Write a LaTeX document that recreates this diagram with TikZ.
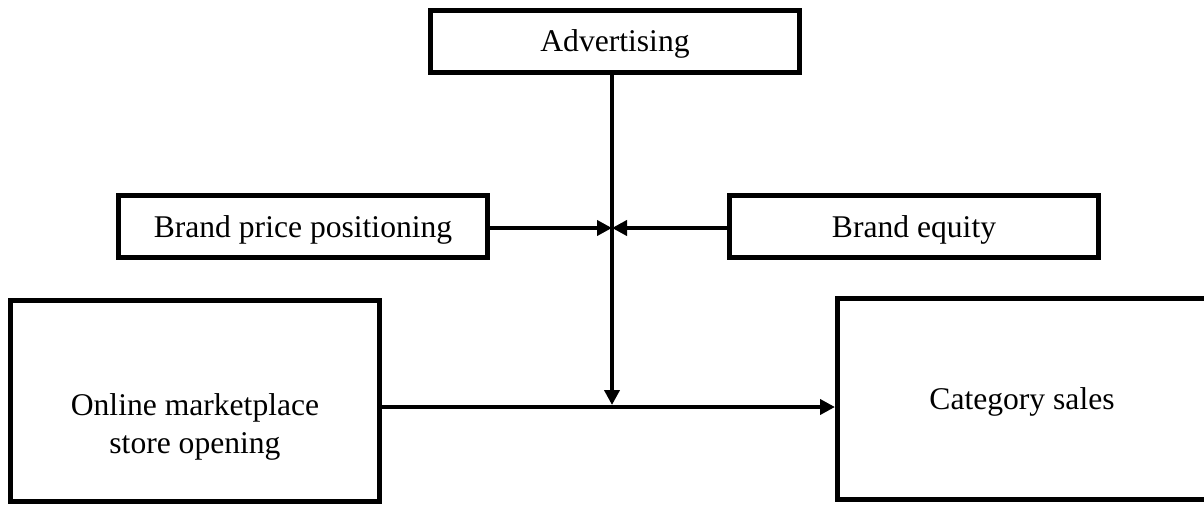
\documentclass[tikz,border=0pt]{standalone}
\usepackage{fontspec}
\setmainfont{Liberation Serif}
\usetikzlibrary{arrows.meta}
\tikzset{
	box_text/.style = {
		align=center,
		inner sep=0pt,
		font=\fontsize{15.8}{19}\selectfont
	},
	box_base/.style = {
		box_text,
		rectangle,
		draw=black,
		line width=2.5pt,
		text depth=0pt
	},
	box_small/.style = {
		box_base,
		minimum width=184.5pt,
		minimum height=31pt
	},
	box_large/.style = {
		box_base,
		minimum width=184.5pt,
		minimum height=100.5pt
	},
	link/.style = {
		line width=2pt
	},
}
\begin{document}
\begin{tikzpicture}[->,>={Triangle[length=7.5pt,width=7.5pt]}, x=0.5pt, y=0.5pt]
\useasboundingbox (0,0) rectangle (1204,505);
\node [box_small] (adv) at (615,464) {Advertising};
\node [box_small] (bpp) at (303,278.5) {Brand price positioning};
\node [box_small] (beq) at (914,278.5) {Brand equity};
\node [box_large] (online) at (195,104.5) {};
\node [box_text] (online_label) at ([yshift=-13pt]online.center) {Online marketplace\\store opening};
\node [box_large] (cat) at (1022,106) {Category sales};
% junction points on the moderating line
\coordinate (hub) at (612,277);
\coordinate (mid) at (612,98);
\draw [link] (adv.south -| hub) -- ([yshift=1pt]mid);
\draw [link] (bpp.east |- hub) -- (hub);
\draw [link] (beq.west |- hub) -- (hub);
\draw [link] (online.east |- mid) -- (cat.west |- mid);
\end{tikzpicture}
\end{document}
